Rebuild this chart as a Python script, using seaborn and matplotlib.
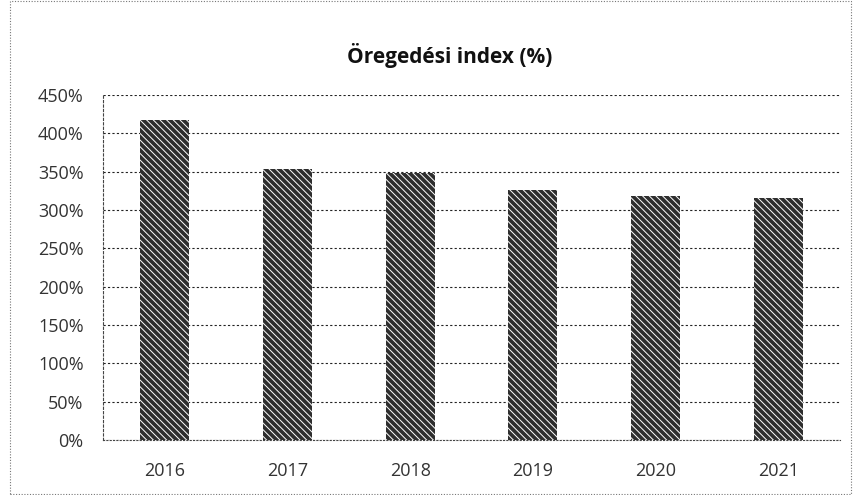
import matplotlib
matplotlib.use('Agg')
import matplotlib.pyplot as plt
import seaborn as sns
import pandas as pd
from matplotlib.ticker import FuncFormatter, FixedLocator

# data
years = ['2016', '2017', '2018', '2019', '2020', '2021']
index_pct = [418, 353, 348, 326, 318, 316]
y_ticks = [0, 50, 100, 150, 200, 250, 300, 350, 400, 450]

df = pd.DataFrame({'year': years, 'index': index_pct})

# style
sns.set_style('white')
plt.rcParams['font.family'] = ['Open Sans', 'DejaVu Sans']
plt.rcParams['hatch.color'] = '#6e6e6e'
plt.rcParams['hatch.linewidth'] = 0.7

fig = plt.figure(figsize=(8.54, 4.95), dpi=100)
ax = fig.add_axes([0.1206, 0.111, 0.863, 0.697])

sns.barplot(ax=ax, data=df, x='year', y='index', color='#2e2e2e',
            width=0.4, saturation=1, hatch='\\\\\\\\\\')
for p in ax.patches:
    p.set_linewidth(0)

# format
ax.set_ylim(0, 450)
ax.set_xlim(-0.5, 5.5)
ax.yaxis.set_major_locator(FixedLocator(y_ticks))
ax.yaxis.set_major_formatter(FuncFormatter(lambda v, _: f'{int(v)}%'))
ax.grid(axis='y', color='#222222', linestyle=(0, (2, 2)), linewidth=0.8)
ax.set_axisbelow(True)
for s in ['top', 'right']:
    ax.spines[s].set_visible(False)
ax.spines['left'].set_color('#444444')
ax.spines['left'].set_linestyle((0, (2, 2)))
ax.spines['left'].set_linewidth(0.8)
ax.spines['bottom'].set_color('#444444')
ax.spines['bottom'].set_linestyle((0, (1, 2)))
ax.spines['bottom'].set_linewidth(0.8)
ax.tick_params(axis='both', labelsize=13, colors='#333333', length=0)
ax.tick_params(axis='y', pad=14)
ax.tick_params(axis='x', pad=16)
ax.set_xlabel('')
ax.set_ylabel('')

fig.text(0.527, 0.888, 'Öregedési index (%)', ha='center', va='center',
         fontsize=15, fontweight='bold', color='#111111')

# dotted frame around the chart
frame = plt.Rectangle((0.012, 0.003), 0.985, 0.994, transform=fig.transFigure,
                      fill=False, edgecolor='#777777', linewidth=0.8,
                      linestyle=(0, (1, 1.5)))
fig.patches.append(frame)

fig.savefig('out.png', dpi=100)
